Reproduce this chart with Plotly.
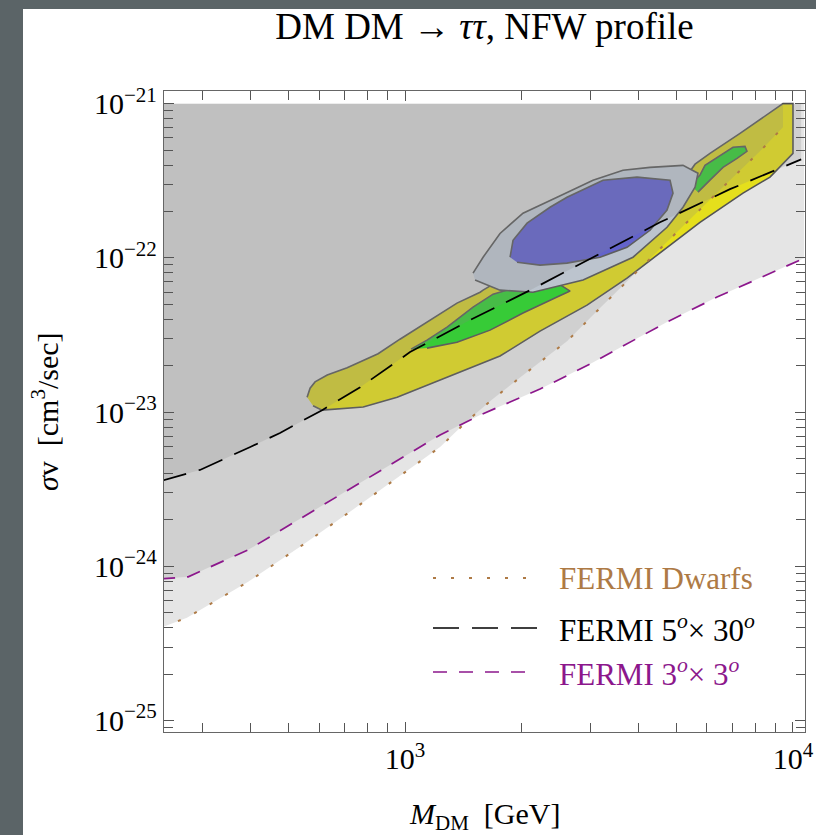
import plotly.graph_objects as go

# ---------------- FERMI exclusion curves (M_DM in GeV, sigma v in cm^3/s) ----------------
dwarf_m = [235, 274, 394, 536, 721, 970, 1231, 1445, 1686, 2063, 2615, 3181, 4280, 5427, 7005, 8220, 9424]
dwarf_sv = [4.01e-25, 4.65e-25, 7.94e-25, 1.34e-24, 2.26e-24, 3.86e-24, 5.94e-24, 8.75e-24, 1.22e-23,
            1.82e-23, 2.88e-23, 4.73e-23, 9.96e-23, 1.78e-22, 3.33e-22, 4.91e-22, 7.03e-22]

gc5x30_m = [235, 296, 399, 476, 611, 766, 1030, 1471, 2100, 3181, 4541, 6880, 10000, 10500]
gc5x30_sv = [3.58e-24, 4.22e-24, 5.94e-24, 7.33e-24, 1.03e-23, 1.45e-23, 2.45e-23, 3.95e-23, 6.17e-23,
             1.06e-22, 1.70e-22, 2.79e-22, 4.17e-22, 4.35e-22]

gc3x3_m = [235, 276, 394, 536, 721, 1093, 1231, 1561, 2228, 2999, 3869, 4735, 6370, 10000, 10680]
gc3x3_sv = [8.30e-25, 8.55e-25, 1.28e-24, 2.03e-24, 3.18e-24, 5.94e-24, 7.11e-24, 9.58e-24, 1.41e-23,
            2.05e-23, 2.89e-23, 3.84e-23, 5.57e-23, 9.25e-23, 9.95e-23]

SV_TOP = 1e-21  # upper edge of the shaded exclusion regions

# ---------------- best-fit regions (closed contours) ----------------
yellow_m = [559, 569, 586, 630, 709, 852, 970, 1139, 1361, 1561, 1589, 3181, 5115, 5592, 6110, 7303, 8368,
            9424, 10000, 10000, 8725, 7433, 5757, 4735, 3734, 2945, 2228, 1757, 1445, 1160, 954, 780, 611, 579]
yellow_sv = [1.25e-23, 1.43e-23, 1.57e-23, 1.74e-23, 1.94e-23, 2.39e-23, 2.97e-23, 3.84e-23, 5.09e-23,
             5.99e-23, 6.18e-23, 1.75e-22, 2.96e-22, 4.05e-22, 4.76e-22, 6.42e-22, 8.15e-22, 1.0e-21,
             1.0e-21, 4.76e-22, 3.34e-22, 2.63e-22, 1.70e-22, 1.17e-22, 7.39e-23, 4.94e-23, 3.35e-23,
             2.31e-23, 1.90e-23, 1.52e-23, 1.25e-23, 1.08e-23, 1.03e-23, 1.10e-23]

green1_m = [1036, 1139, 1283, 1497, 1686, 1865, 2295, 2663, 2465, 2014, 1656, 1361, 1139]
green1_sv = [2.56e-23, 2.93e-23, 3.56e-23, 4.80e-23, 5.82e-23, 6.27e-23, 7.73e-23, 6.09e-23, 5.57e-23,
             4.39e-23, 3.40e-23, 2.84e-23, 2.60e-23]

green2_m = [5427, 5757, 5932, 6370, 7005, 7521, 7610, 7174, 6600, 6110, 5690]
green2_sv = [2.96e-22, 3.44e-22, 3.98e-22, 4.49e-22, 5.21e-22, 5.28e-22, 4.91e-22, 4.42e-22, 3.86e-22,
             3.19e-22, 2.67e-22]

lightblue_m = [1497, 1589, 1757, 2014, 2465, 3051, 3646, 4280, 5206, 5690, 5592, 5206, 4735, 3869, 2876,
               2137, 1757, 1515]
lightblue_sv = [7.96e-23, 1.01e-22, 1.44e-22, 1.95e-22, 2.47e-22, 3.19e-22, 3.70e-22, 3.86e-22, 3.98e-22,
                3.54e-22, 2.87e-22, 2.13e-22, 1.58e-22, 1.01e-22, 7.18e-23, 5.99e-23, 6.18e-23, 7.18e-23]

blue_m = [1865, 1898, 2063, 2364, 2615, 3238, 3963, 4820, 4906, 4735, 4280, 3734, 3181, 2615, 2228, 1944]
blue_sv = [1.01e-22, 1.30e-22, 1.68e-22, 2.13e-22, 2.47e-22, 3.19e-22, 3.34e-22, 3.19e-22, 2.63e-22,
           2.04e-22, 1.51e-22, 1.17e-22, 1.01e-22, 9.25e-23, 8.98e-23, 9.38e-23]

# ---------------- axes ----------------
x_major = [1e3, 1e4]
x_major_text = ["10<sup>3</sup>", "10<sup>4</sup>"]
y_major = [1e-25, 1e-24, 1e-23, 1e-22, 1e-21]
y_major_text = ["10<sup>\u221225</sup>", "10<sup>\u221224</sup>", "10<sup>\u221223</sup>",
                "10<sup>\u221222</sup>", "10<sup>\u221221</sup>"]
x_minor = [k * 10 ** e for e in (2, 3) for k in range(2, 10)]
y_minor = [k * 10.0 ** e for e in (-26, -25, -24, -23, -22) for k in range(2, 10)]

FONT = "Liberation Serif"
EDGE = "#474747"
GRAY_LAYER = "rgba(130,130,130,0.21)"
SLATE = "#5b6467"

fig = go.Figure()


def region(m, sv, color):
    fig.add_trace(go.Scatter(
        x=m, y=sv, mode="lines", fill="toself", fillcolor=color,
        line=dict(color=EDGE, width=1.6), hoverinfo="skip", showlegend=False))


region(yellow_m, yellow_sv, "rgb(255,248,0)")
region(green1_m, green1_sv, "rgb(10,248,10)")
region(green2_m, green2_sv, "rgb(10,248,10)")
region(lightblue_m, lightblue_sv, "rgb(222,236,252)")
region(blue_m, blue_sv, "rgb(80,80,248)")

# translucent shading above each exclusion curve
for m, sv in ((dwarf_m, dwarf_sv), (gc5x30_m, gc5x30_sv), (gc3x3_m, gc3x3_sv)):
    fig.add_trace(go.Scatter(
        x=m + [m[-1], m[0]], y=sv + [SV_TOP, SV_TOP], mode="lines", fill="toself",
        fillcolor=GRAY_LAYER, line=dict(width=0), hoverinfo="skip", showlegend=False))

DWARF_C = "#ae7a45"
PURPLE_C = "#8c178c"
DWARF_DASH = "3px,15px"
BLACK_DASH = "26px,13px"
PURPLE_DASH = "14px,12px"

fig.add_trace(go.Scatter(x=dwarf_m, y=dwarf_sv, mode="lines",
                         line=dict(color=DWARF_C, width=2, dash=DWARF_DASH), showlegend=False))
fig.add_trace(go.Scatter(x=gc5x30_m, y=gc5x30_sv, mode="lines",
                         line=dict(color="black", width=1.7, dash=BLACK_DASH), showlegend=False))
fig.add_trace(go.Scatter(x=gc3x3_m, y=gc3x3_sv, mode="lines",
                         line=dict(color=PURPLE_C, width=1.7, dash=PURPLE_DASH), showlegend=False))

# ---------------- legend drawn inside the frame ----------------
L, T, W, H = 164, 91, 641, 641


def px(p):
    return (p - L) / W


def py(q):
    return (T + H - q) / H


legend_rows = [
    (578, DWARF_C, DWARF_DASH, 2, 526, "FERMI Dwarfs", DWARF_C),
    (628, "black", BLACK_DASH, 1.7, 537, "FERMI 5<sup><i>o</i></sup>\u00d7 30<sup><i>o</i></sup>", "black"),
    (672, PURPLE_C, PURPLE_DASH, 1.7, 525, "FERMI 3<sup><i>o</i></sup>\u00d7 3<sup><i>o</i></sup>", PURPLE_C),
]
# slate border of the page (left and top strips)
shapes = [
    dict(type="rect", xref="paper", yref="paper", x0=px(0), x1=px(23), y0=py(835), y1=py(0),
         fillcolor=SLATE, line=dict(width=0), layer="above"),
    dict(type="rect", xref="paper", yref="paper", x0=px(0), x1=px(816), y0=py(9), y1=py(0),
         fillcolor=SLATE, line=dict(width=0), layer="above"),
]
annotations = []
for yy, lc, dash, lw, xend, label, tc in legend_rows:
    shapes.append(dict(type="line", xref="paper", yref="paper", x0=px(433), x1=px(xend),
                       y0=py(yy), y1=py(yy), line=dict(color=lc, width=lw, dash=dash)))
    annotations.append(dict(xref="paper", yref="paper", x=px(557), y=py(yy), xanchor="left",
                            yanchor="middle", text=label, showarrow=False,
                            font=dict(family=FONT, size=31, color=tc)))

# axis titles
annotations.append(dict(xref="paper", yref="paper", x=px(484), y=py(816), xanchor="center",
                        yanchor="middle", showarrow=False,
                        text="<i>M</i><sub>DM</sub>\u00a0\u00a0[GeV]",
                        font=dict(family=FONT, size=30, color="black")))
annotations.append(dict(xref="paper", yref="paper", x=px(45), y=py(411), xanchor="center",
                        yanchor="middle", showarrow=False, textangle=-90,
                        text="<i>\u03c3</i>v\u00a0\u00a0[cm<sup>3</sup>/sec]",
                        font=dict(family=FONT, size=30, color="black")))

axis_common = dict(
    type="log", showgrid=False, zeroline=False, showline=True, linecolor="#666666", linewidth=1.3,
    mirror="ticks", ticks="inside", ticklen=10, tickwidth=1.1, tickcolor="#555555", automargin=False,
    tickfont=dict(family=FONT, size=30, color="black"),
)

fig.update_layout(
    width=816, height=835,
    margin=dict(l=L, r=816 - L - W, t=T, b=835 - T - H),
    paper_bgcolor="white", plot_bgcolor="white",
    font=dict(family=FONT, color="black"),
    title=dict(text="DM DM \u2192 <i>\u03c4\u03c4</i>, NFW profile", x=0.5, xref="paper", xanchor="center",
               y=1 - 26 / 835, yref="container", yanchor="middle",
               font=dict(family=FONT, size=37, color="black")),
    xaxis=dict(axis_common, range=[2.3785, 4.031], tickmode="array", tickvals=x_major,
               ticktext=x_major_text,
               minor=dict(tickmode="array", tickvals=x_minor, ticks="inside", ticklen=9,
                          tickwidth=1, tickcolor="#555555")),
    yaxis=dict(axis_common, range=[-25.074, -20.918], tickmode="array", tickvals=y_major,
               ticktext=y_major_text,
               minor=dict(tickmode="array", tickvals=y_minor, ticks="inside", ticklen=9,
                          tickwidth=1, tickcolor="#555555")),
    shapes=shapes,
    annotations=annotations,
)

# white page behind the figure, no scrollbars
fig.write_html(
    "out.html",
    post_script="document.documentElement.style.overflow='hidden';"
                "document.documentElement.style.background='white';"
                "document.body.style.overflow='hidden';document.body.style.margin='0';"
                "document.body.style.background='white';",
)
